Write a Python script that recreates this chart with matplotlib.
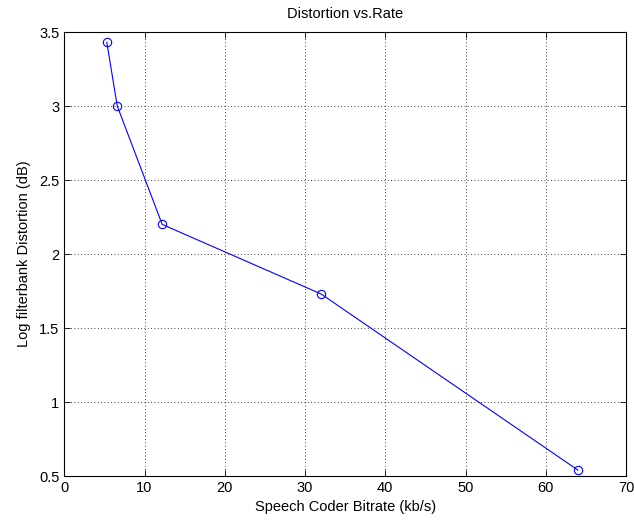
import matplotlib
matplotlib.use("Agg")
import matplotlib.pyplot as plt

# bitrate (kb/s) vs log filterbank distortion (dB)
bitrate = [5.3, 6.6, 12.2, 32, 64]
distortion = [3.43, 3.0, 2.2, 1.73, 0.54]

x_ticks = [0, 10, 20, 30, 40, 50, 60, 70]
y_ticks = [0.5, 1, 1.5, 2, 2.5, 3, 3.5]
y_labels = ["0.5", "1", "1.5", "2", "2.5", "3", "3.5"]

plt.rcParams["font.family"] = ["Liberation Sans", "DejaVu Sans"]

fig = plt.figure(figsize=(6.34, 5.25), dpi=100)
ax = fig.add_axes([0.1014, 0.0933, 0.886, 0.8457])

ax.plot(bitrate, distortion, color="blue", linewidth=0.8, marker="o",
        markersize=6, markerfacecolor="none", markeredgecolor="blue",
        markeredgewidth=0.8)

ax.set_xlim(0, 70)
ax.set_ylim(0.5, 3.5)
ax.set_xticks(x_ticks)
ax.set_yticks(y_ticks)
ax.set_yticklabels(y_labels)
ax.tick_params(direction="in", top=True, right=True, labelsize=10.5,
               length=4, width=0.6)
ax.grid(True, color="black", linestyle=(0, (1, 3)), linewidth=0.6)
for s in ax.spines.values():
    s.set_linewidth(0.8)

ax.set_title("Distortion vs.Rate", fontsize=10.5, pad=10)
ax.set_xlabel("Speech Coder Bitrate (kb/s)", fontsize=10.5, labelpad=4)
ax.set_ylabel("Log filterbank Distortion (dB)", fontsize=10.5, labelpad=6)

fig.savefig("out.png", dpi=100)
